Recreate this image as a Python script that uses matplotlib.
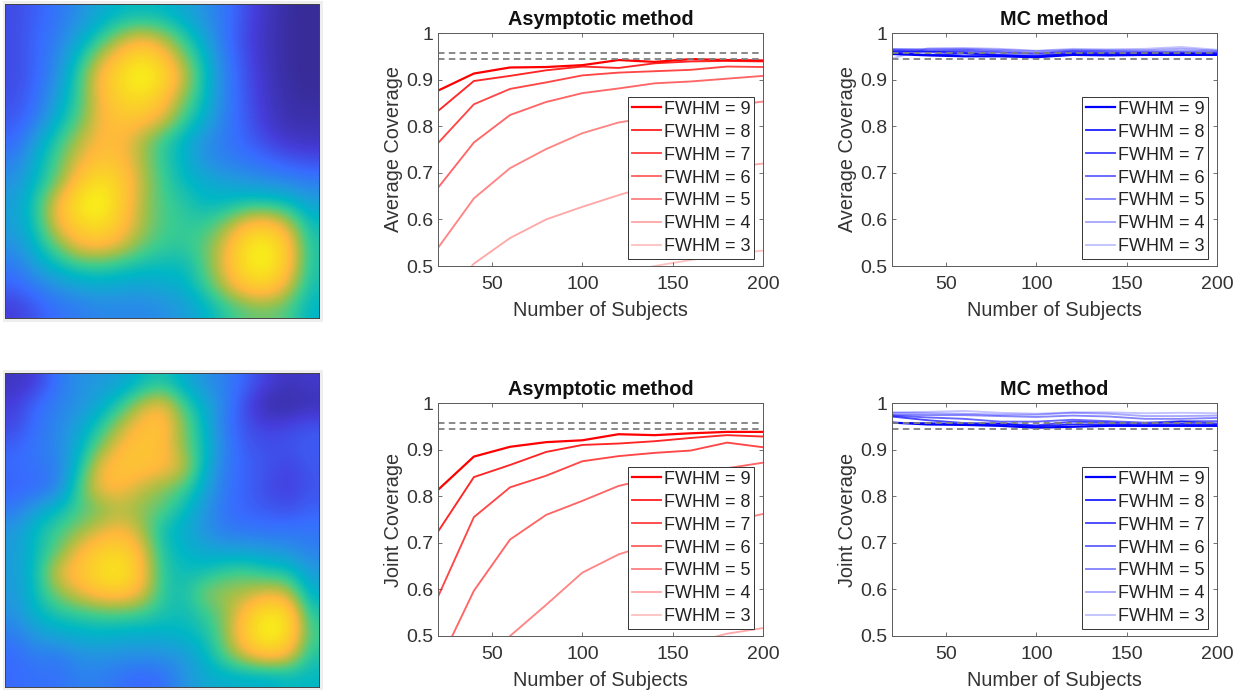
import numpy as np
import matplotlib
matplotlib.use('Agg')
import matplotlib.pyplot as plt
from matplotlib.colors import LinearSegmentedColormap
from matplotlib.patches import Rectangle

plt.rcParams['font.family'] = ['Liberation Sans', 'DejaVu Sans']

WIDTH = 1242
HEIGHT = 694

subjects = [20, 40, 60, 80, 100, 120, 140, 160, 180, 200]
fwhm = [9, 8, 7, 6, 5, 4, 3]
nominal = [0.958, 0.944]

# one row per FWHM, same order as fwhm list
avg_asym = [
    [.876, .913, .926, .927, .931, .942, .938, .944, .942, .941],
    [.832, .897, .908, .920, .928, .925, .935, .939, .940, .939],
    [.763, .847, .880, .894, .909, .915, .918, .921, .928, .927],
    [.667, .765, .824, .852, .871, .881, .892, .896, .902, .908],
    [.538, .645, .710, .751, .785, .808, .820, .830, .843, .853],
    [.410, .505, .560, .600, .627, .652, .675, .695, .710, .720],
    [.300, .360, .410, .440, .465, .485, .500, .513, .525, .533],
]
avg_mc = [
    [.955, .952, .950, .950, .948, .953, .952, .953, .953, .953],
    [.958, .953, .956, .952, .950, .955, .954, .954, .956, .954],
    [.960, .960, .958, .953, .951, .957, .956, .957, .956, .956],
    [.962, .960, .961, .958, .955, .960, .958, .958, .958, .957],
    [.965, .963, .964, .961, .957, .962, .961, .960, .961, .960],
    [.965, .966, .966, .964, .961, .964, .963, .963, .966, .962],
    [.945, .967, .968, .966, .962, .966, .965, .966, .970, .964],
]
joint_asym = [
    [.813, .885, .906, .916, .920, .933, .931, .935, .938, .938],
    [.723, .841, .867, .895, .910, .913, .918, .925, .931, .928],
    [.583, .755, .819, .844, .875, .886, .893, .898, .915, .905],
    [.435, .597, .707, .760, .790, .822, .840, .850, .860, .872],
    [.300, .400, .500, .567, .636, .675, .700, .720, .745, .762],
    [.200, .280, .340, .380, .410, .440, .460, .485, .505, .517],
    [.100, .150, .200, .250, .280, .300, .330, .350, .370, .390],
]
joint_mc = [
    [.958, .954, .953, .951, .947, .949, .951, .951, .951, .951],
    [.957, .957, .954, .955, .950, .954, .954, .952, .955, .953],
    [.971, .963, .957, .956, .952, .960, .958, .955, .960, .956],
    [.973, .969, .966, .960, .960, .964, .961, .958, .961, .961],
    [.975, .974, .974, .972, .970, .973, .971, .966, .966, .968],
    [.979, .978, .977, .975, .975, .979, .977, .972, .972, .973],
    [.980, .981, .983, .979, .977, .980, .980, .978, .979, .978],
]

signal_true = [
    [.15, .20, .25, .32, .40, .45, .46, .45, .40, .33, .25, .15, .08, .03, .02],
    [.15, .21, .27, .38, .50, .63, .70, .64, .52, .38, .24, .14, .07, .03, .02],
    [.15, .21, .30, .47, .66, .80, .90, .80, .62, .46, .26, .15, .07, .03, .02],
    [.15, .21, .33, .54, .76, .90, 1.0, .90, .70, .48, .28, .16, .08, .03, .02],
    [.16, .23, .38, .54, .74, .86, .90, .80, .62, .47, .28, .17, .09, .04, .03],
    [.18, .26, .44, .57, .74, .80, .79, .72, .55, .42, .27, .18, .10, .05, .05],
    [.21, .38, .52, .66, .76, .76, .66, .53, .44, .33, .26, .20, .14, .09, .08],
    [.28, .43, .57, .72, .80, .78, .66, .53, .44, .33, .28, .25, .22, .18, .16],
    [.33, .46, .60, .80, .92, .84, .68, .55, .46, .42, .38, .35, .32, .30, .27],
    [.37, .52, .74, .94, 1.0, .84, .66, .56, .52, .45, .46, .50, .50, .47, .38],
    [.37, .50, .74, .86, .92, .80, .66, .56, .53, .53, .62, .76, .80, .68, .47],
    [.33, .46, .60, .75, .78, .72, .60, .54, .53, .58, .72, .92, .97, .80, .50],
    [.26, .38, .47, .53, .54, .51, .48, .47, .46, .57, .74, .93, .97, .80, .50],
    [.20, .27, .33, .38, .40, .39, .38, .40, .43, .53, .68, .82, .85, .70, .48],
    [.12, .18, .24, .27, .30, .30, .30, .32, .36, .43, .52, .58, .60, .56, .44],
]
signal_est = [
    [.08, .12, .25, .33, .35, .38, .46, .50, .42, .33, .28, .20, .12, .08, .10],
    [.12, .22, .28, .33, .40, .52, .67, .76, .55, .42, .28, .14, .04, .03, .06],
    [.14, .24, .30, .38, .50, .66, .78, .80, .62, .45, .25, .16, .12, .14, .17],
    [.20, .26, .30, .42, .60, .76, .80, .78, .62, .47, .28, .18, .16, .17, .19],
    [.22, .25, .27, .47, .74, .80, .80, .77, .70, .45, .26, .20, .17, .13, .18],
    [.20, .22, .28, .55, .75, .77, .68, .62, .56, .40, .25, .20, .15, .12, .17],
    [.26, .38, .46, .55, .60, .66, .62, .58, .47, .35, .24, .20, .18, .16, .20],
    [.35, .47, .55, .62, .70, .76, .66, .47, .42, .33, .26, .25, .24, .25, .25],
    [.36, .47, .58, .74, .84, .86, .75, .50, .44, .40, .38, .38, .36, .33, .28],
    [.36, .48, .72, .80, .90, .96, .78, .52, .47, .48, .54, .56, .50, .50, .36],
    [.35, .48, .62, .72, .80, .82, .74, .52, .48, .62, .65, .66, .72, .68, .42],
    [.33, .45, .50, .53, .55, .56, .54, .50, .47, .53, .62, .80, .94, .90, .50],
    [.27, .36, .40, .42, .44, .42, .42, .42, .45, .48, .62, .85, 1.0, .90, .55],
    [.22, .28, .26, .33, .33, .33, .32, .33, .35, .44, .58, .72, .80, .75, .50],
    [.22, .24, .24, .28, .28, .24, .21, .23, .33, .40, .42, .42, .42, .45, .45],
]

parula = LinearSegmentedColormap.from_list('parula', [
    (0.00, (0.21, 0.16, 0.55)),
    (0.12, (0.27, 0.24, 0.86)),
    (0.22, (0.22, 0.42, 1.00)),
    (0.35, (0.13, 0.60, 0.87)),
    (0.45, (0.00, 0.72, 0.77)),
    (0.55, (0.24, 0.80, 0.56)),
    (0.65, (0.65, 0.75, 0.28)),
    (0.75, (1.00, 0.72, 0.24)),
    (0.88, (0.98, 0.85, 0.14)),
    (1.00, (0.97, 0.99, 0.08)),
])

line_alpha = [1, .85, .72, .6, .48, .34, .24]
line_width = [1.6, 1.35, 1.35, 1.35, 1.35, 1.35, 1.35]
TEXT = '#333333'
SPINE = '#5a5a5a'
FONT = 14.3
TICK_FONT = 14
LEGEND_FONT = 13

fig = plt.figure(figsize=(WIDTH / 100, HEIGHT / 100), dpi=100, facecolor='w')


def px_axes(left, top, right, bottom):
    return fig.add_axes([left / WIDTH, 1 - bottom / HEIGHT,
                         (right - left) / WIDTH, (bottom - top) / HEIGHT])


def draw_map(values, left, top, right, bottom, pad):
    # light frame around the pasted image
    fig.add_artist(Rectangle((pad[0] / WIDTH, 1 - pad[3] / HEIGHT),
                             (pad[2] - pad[0]) / WIDTH, (pad[3] - pad[1]) / HEIGHT,
                             transform=fig.transFigure, facecolor='#eeeeee',
                             edgecolor='none', zorder=-1))
    ax = px_axes(left, top, right, bottom)
    ax.imshow(np.array(values), cmap=parula, vmin=0, vmax=1, interpolation='bicubic', aspect='auto')
    ax.set_xticks([])
    ax.set_yticks([])
    for s in ax.spines.values():
        s.set_linewidth(0.7)
        s.set_color('#444444')


def draw_lines(series, color, title, ylabel, left, top):
    right = left + 325.5
    bottom = top + 233
    ax = px_axes(left, top, right, bottom)
    for i, f in enumerate(fwhm):
        ax.plot(subjects, series[i], color=color, alpha=line_alpha[i], lw=line_width[i],
                label='FWHM = {}'.format(f), solid_joinstyle='round')
    for n in nominal:
        ax.axhline(n, color='#808080', lw=1.3, dashes=(3.6, 2.4))
    ax.set_xlim(20, 200)
    ax.set_ylim(0.5, 1)
    ax.set_xticks([50, 100, 150, 200])
    ax.set_yticks([0.5, 0.6, 0.7, 0.8, 0.9, 1])
    ax.set_yticklabels(['0.5', '0.6', '0.7', '0.8', '0.9', '1'])
    ax.tick_params(axis='y', direction='in', right=True, length=3, width=0.6,
                   color=SPINE, labelcolor=TEXT, labelsize=TICK_FONT, pad=3)
    ax.tick_params(axis='x', direction='in', top=True, length=3, width=0.6,
                   color=SPINE, labelcolor=TEXT, labelsize=TICK_FONT, pad=7)
    ax.set_xlabel('Number of Subjects', fontsize=FONT, color=TEXT, va='center')
    ax.xaxis.set_label_coords(0.5, -44 / 233)
    ax.set_ylabel(ylabel, fontsize=FONT, color=TEXT, va='center')
    ax.yaxis.set_label_coords(-44 / 325.5, 0.5)
    ax.set_title(title, fontsize=FONT, fontweight='bold', color='#111111', pad=6)
    for s in ax.spines.values():
        s.set_linewidth(0.7)
        s.set_color(SPINE)
    leg = ax.legend(loc='lower right', bbox_to_anchor=(316.5 / 325.5, 7 / 233), borderaxespad=0,
                    fontsize=LEGEND_FONT, fancybox=False, framealpha=1, edgecolor='#333333',
                    handlelength=1.6, handletextpad=0.17, labelspacing=0.33,
                    borderpad=0.2, labelcolor='#222222')
    leg.get_frame().set_linewidth(0.7)


draw_map(signal_true, 5, 4, 319, 318, (3, 1, 323, 322))
draw_map(signal_est, 5, 373, 319, 687, (3, 370, 323, 690))

draw_lines(avg_asym, 'red', 'Asymptotic method', 'Average Coverage', 437.7, 33)
draw_lines(avg_mc, 'blue', 'MC method', 'Average Coverage', 891.7, 33)
draw_lines(joint_asym, 'red', 'Asymptotic method', 'Joint Coverage', 437.7, 403)
draw_lines(joint_mc, 'blue', 'MC method', 'Joint Coverage', 891.7, 403)

plt.savefig('out.png', dpi=100, facecolor='w')
